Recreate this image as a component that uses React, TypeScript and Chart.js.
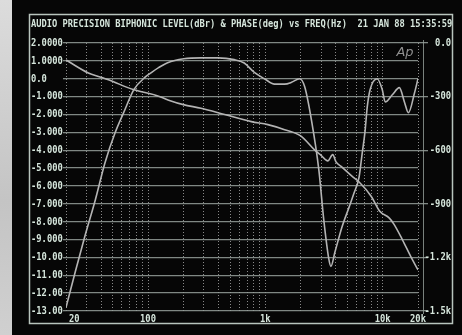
import React, { useEffect, useRef } from "react";
import { Chart, registerables } from "chart.js";

Chart.register(...registerables);

const TITLE = "AUDIO PRECISION BIPHONIC LEVEL(dBr) & PHASE(deg) vs FREQ(Hz)  21 JAN 88 15:35:59";

// Level curve (dBr)
const levelFreq = [20, 24, 29, 35.5, 43, 52.6, 62, 76, 95, 105, 123, 147, 202, 283, 395, 542, 661, 806, 982, 1197, 1458, 1674, 1960, 2165, 2484, 2857, 3148, 3477, 3620, 3920, 4500, 5165, 5700, 6296, 6680, 7085, 7380, 7820, 8980, 9910, 10520, 12080, 13870, 15320, 16570, 18670, 20000];
const levelDb = [-12.8, -10.8, -8.8, -6.8, -4.7, -3.0, -1.9, -0.6, 0.1, 0.31, 0.62, 0.9, 1.12, 1.17, 1.17, 1.07, 0.88, 0.35, 0.0, -0.3, -0.3, -0.2, 0.0, -0.45, -2.4, -5.1, -7.9, -10.1, -10.5, -9.7, -8.3, -7.2, -6.4, -5.5, -4.2, -2.9, -1.6, -0.6, 0.0, -0.6, -1.3, -0.9, -0.5, -1.3, -1.9, -0.8, 0.0];

// Phase curve (deg)
const phaseFreq = [20, 31, 39, 46, 76, 116, 150, 200, 283, 450, 760, 1050, 1460, 2000, 2640, 3000, 3400, 3750, 4000, 4500, 5500, 6300, 8000, 9400, 11400, 12500, 14700, 17500, 20000];
const phaseDeg = [-95, -168, -190, -206, -262, -292, -320, -345, -365, -400, -440, -457, -485, -520, -600, -630, -660, -625, -665, -695, -747, -778, -859, -940, -980, -1015, -1100, -1200, -1270];

// Axes
const gridFreqs = [20, 30, 40, 50, 60, 70, 80, 90, 100, 200, 300, 400, 500, 600, 700, 800, 900, 1000, 2000, 3000, 4000, 5000, 6000, 7000, 8000, 9000, 10000, 20000];
const xTickValues = [20, 100, 1000, 10000, 20000];
const xTickLabels = ["20", "100", "1k", "10k", "20k"];
const levelTickValues = [2, 1, 0, -1, -2, -3, -4, -5, -6, -7, -8, -9, -10, -11, -12, -13];
const levelTickLabels = ["2.0000", "1.0000", "0.0", "-1.000", "-2.000", "-3.000", "-4.000", "-5.000", "-6.000", "-7.000", "-8.000", "-9.000", "-10.00", "-11.00", "-12.00", "-13.00"];
const phaseTickValues = [0, -300, -600, -900, -1200, -1500];
const phaseTickLabels = ["0.0", "-300", "-600", "-900", "-1.2k", "-1.5k"];

const TEXT = "#d6e6dc";
const GRID = "rgba(150,160,155,0.85)";
const CURVE = "#b4b4b4";

function drawText(ctx: CanvasRenderingContext2D, txt: string, x: number, y: number, align: CanvasTextAlign, color: string, sx = 0.8) {
  ctx.save();
  ctx.font = 'bold 11px "DejaVu Sans Mono"';
  ctx.fillStyle = color;
  ctx.textBaseline = "middle";
  ctx.textAlign = align;
  ctx.translate(x, y);
  ctx.scale(sx, 1);
  ctx.fillText(txt, 0, 0);
  ctx.restore();
}

const labelPlugin = {
  id: "apLabels",
  afterDraw(chart: any) {
    const ctx: CanvasRenderingContext2D = chart.ctx;
    const { x, y, y1 } = chart.scales;
    const area = chart.chartArea;
    // frame
    ctx.save();
    ctx.strokeStyle = "#b8c4bd";
    ctx.lineWidth = 1.5;
    ctx.strokeRect(29.5, 14.5, 423, 309);
    ctx.beginPath();
    ctx.moveTo(area.right + 5.5, area.top - 3);
    ctx.lineTo(area.right + 5.5, area.bottom + 3);
    ctx.lineWidth = 1;
    ctx.strokeStyle = "rgba(150,160,155,0.8)";
    ctx.stroke();
    ctx.restore();
    // title
    drawText(ctx, TITLE, 31, 24, "left", TEXT, 0.795);
    // left labels
    levelTickValues.forEach((v, i) => {
      drawText(ctx, levelTickLabels[i], 31, y.getPixelForValue(v), "left", TEXT);
    });
    // right labels
    phaseTickValues.forEach((v, i) => {
      drawText(ctx, phaseTickLabels[i], 451, y1.getPixelForValue(v), "right", TEXT);
    });
    // x labels
    xTickValues.forEach((v, i) => {
      const px = x.getPixelForValue(v);
      if (i === 0) drawText(ctx, xTickLabels[i], px + 3, 319, "left", TEXT);
      else drawText(ctx, xTickLabels[i], px, 319, "center", TEXT);
    });
    // Ap logo
    ctx.save();
    ctx.fillStyle = "#050505";
    ctx.fillRect(396, 46, 20, 14);
    ctx.font = 'italic 13px "DejaVu Sans"';
    ctx.fillStyle = "#8f8f8f";
    ctx.textAlign = "center";
    ctx.textBaseline = "middle";
    ctx.fillText("Ap", 405, 53);
    ctx.restore();
  },
};

export default function App() {
  const ref = useRef<HTMLCanvasElement>(null);
  useEffect(() => {
    if (!ref.current) return;
    const chart = new Chart(ref.current, {
      type: "line",
      data: {
        datasets: [
          {
            label: "Level",
            data: levelFreq.map((f, i) => ({ x: f, y: levelDb[i] })),
            yAxisID: "y",
            borderColor: CURVE,
            borderWidth: 1.6,
            pointRadius: 0,
            cubicInterpolationMode: "monotone",
            fill: false,
          },
          {
            label: "Phase",
            data: phaseFreq.map((f, i) => ({ x: f, y: phaseDeg[i] })),
            yAxisID: "y1",
            borderColor: CURVE,
            borderWidth: 1.6,
            pointRadius: 0,
            cubicInterpolationMode: "monotone",
            fill: false,
          },
        ],
      },
      options: {
        animation: false,
        responsive: false,
        devicePixelRatio: 1,
        layout: { padding: { top: 43, left: 0, right: 0, bottom: 0 } },
        plugins: { legend: { display: false }, tooltip: { enabled: false }, title: { display: false } },
        scales: {
          x: {
            type: "logarithmic",
            min: 20,
            max: 20000,
            afterBuildTicks: (s: any) => {
              s.ticks = gridFreqs.map((v) => ({ value: v }));
            },
            afterFit: (s: any) => {
              s.height = 24;
            },
            ticks: { display: false },
            grid: { color: "rgba(170,170,170,0.8)", lineWidth: 1, drawTicks: false },
            border: { display: false, dash: [1, 2] },
          },
          y: {
            type: "linear",
            position: "left",
            min: -13,
            max: 2,
            afterBuildTicks: (s: any) => {
              s.ticks = levelTickValues.map((v) => ({ value: v }));
            },
            afterFit: (s: any) => {
              s.width = 66;
            },
            ticks: { display: false },
            grid: { color: GRID, lineWidth: 1.3, drawTicks: true, tickLength: 3 },
            border: { display: false },
          },
          y1: {
            type: "linear",
            position: "right",
            min: -1500,
            max: 0,
            afterBuildTicks: (s: any) => {
              s.ticks = phaseTickValues.map((v) => ({ value: v }));
            },
            afterFit: (s: any) => {
              s.width = 44;
            },
            ticks: { display: false },
            grid: { color: GRID, lineWidth: 1.3, drawOnChartArea: false, drawTicks: true, tickLength: 10 },
            border: { display: false },
          },
        },
      },
      plugins: [labelPlugin],
    } as any);
    return () => chart.destroy();
  }, []);

  return (
    <div style={{ position: "fixed", left: 0, top: 0, width: 462, height: 335, background: "#060606", overflow: "hidden" }}>
      <div style={{ position: "absolute", left: 0, top: 0, width: 12, height: 335, background: "linear-gradient(#dcdcdc, #c4c4c4 60%, #d0d0d0)" }} />
      <canvas ref={ref} width={462} height={335} style={{ position: "absolute", left: 0, top: 0, width: 462, height: 335 }} />
    </div>
  );
}
